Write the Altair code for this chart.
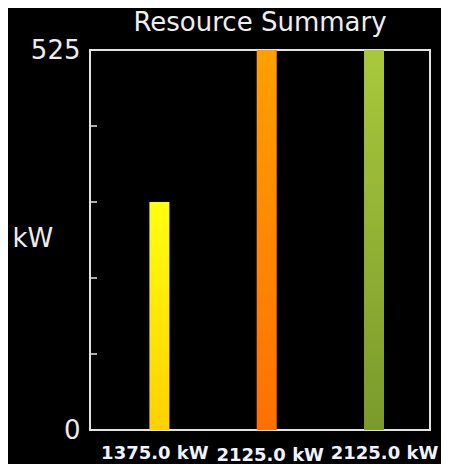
import altair as alt
import pandas as pd

# ---- data ----
slots = [1, 2, 3]
labels = ["1375.0 kW", "2125.0 kW", "2125.0 kW"]
values = [315, 525, 525]
top_colors = ["#ffff10", "#ffa000", "#a8c83c"]
bottom_colors = ["#ffd000", "#ff7000", "#7a9a2c"]
tick_values = [105, 210, 315, 420]
y_max = 525

df = pd.DataFrame({"slot": slots, "label": labels, "kw": values})
ticks_df = pd.DataFrame({"t": tick_values})

label_expr = "[" + ",".join("'%s'" % l for l in labels) + "][datum.value-1]"

x_scale = alt.Scale(domain=[0.4, 3.475])
y_scale = alt.Scale(domain=[0, y_max], nice=False)

x_axis = alt.Axis(
    values=slots, labelExpr=label_expr, title=None, ticks=False, domain=False,
    grid=False, labelFont="DejaVu Sans", labelFontWeight="bold", labelFontSize=18,
    labelColor="#eef3ff",
    labelPadding={"condition": [{"test": "datum.value == 2", "value": 16}], "value": 14},
    labelOffset={"condition": [{"test": "datum.value == 1", "value": -5},
                               {"test": "datum.value == 3", "value": 10}], "value": 3},
    labelBound=False, labelOverlap=False, labelFlush=False,
)
y_axis = alt.Axis(
    values=[0, y_max], title="kW", titleAngle=0, titleX=-78, titleY=188,
    titleAlign="left", titleBaseline="middle", titleFont="DejaVu Sans",
    titleFontSize=26, titleFontWeight="normal", titleColor="#ececec",
    ticks=False, domain=False, grid=False, labelFont="DejaVu Sans",
    labelFontSize=26, labelColor="#ececec", labelPadding=10, labelFlush=False,
    labelBound=False, labelOverlap=False,
)

layers = []
for i, s in enumerate(slots):
    grad = alt.Gradient(
        gradient="linear",
        stops=[alt.GradientStop(color=top_colors[i], offset=0),
               alt.GradientStop(color=bottom_colors[i], offset=1)],
        x1=0, x2=0, y1=0, y2=1,
    )
    layers.append(
        alt.Chart(df[df["slot"] == s]).mark_bar(size=20, color=grad).encode(
            x=alt.X("slot:Q", scale=x_scale, axis=x_axis),
            y=alt.Y("kw:Q", scale=y_scale, axis=y_axis),
        )
    )

tick_rules = alt.Chart(ticks_df).mark_rule(color="#e6e6e6", strokeWidth=1.5).encode(
    y=alt.Y("t:Q", scale=y_scale, axis=y_axis),
    x=alt.value(0),
    x2=alt.value(7),
)

chart = alt.layer(*layers, tick_rules).properties(
    width=340,
    height=380,
    title=alt.TitleParams(
        "Resource Summary", font="DejaVu Sans", fontSize=26, fontWeight="normal",
        color="#eeeeee", anchor="middle", offset=1,
    ),
    background="black",
    autosize=alt.AutoSizeParams(type="none"),
    padding={"left": 82, "top": 42, "right": 11, "bottom": 34},
).configure_view(stroke="#e2e2e2", strokeWidth=2)

chart.save("out.html", embed_options={"renderer": "svg", "actions": False})
